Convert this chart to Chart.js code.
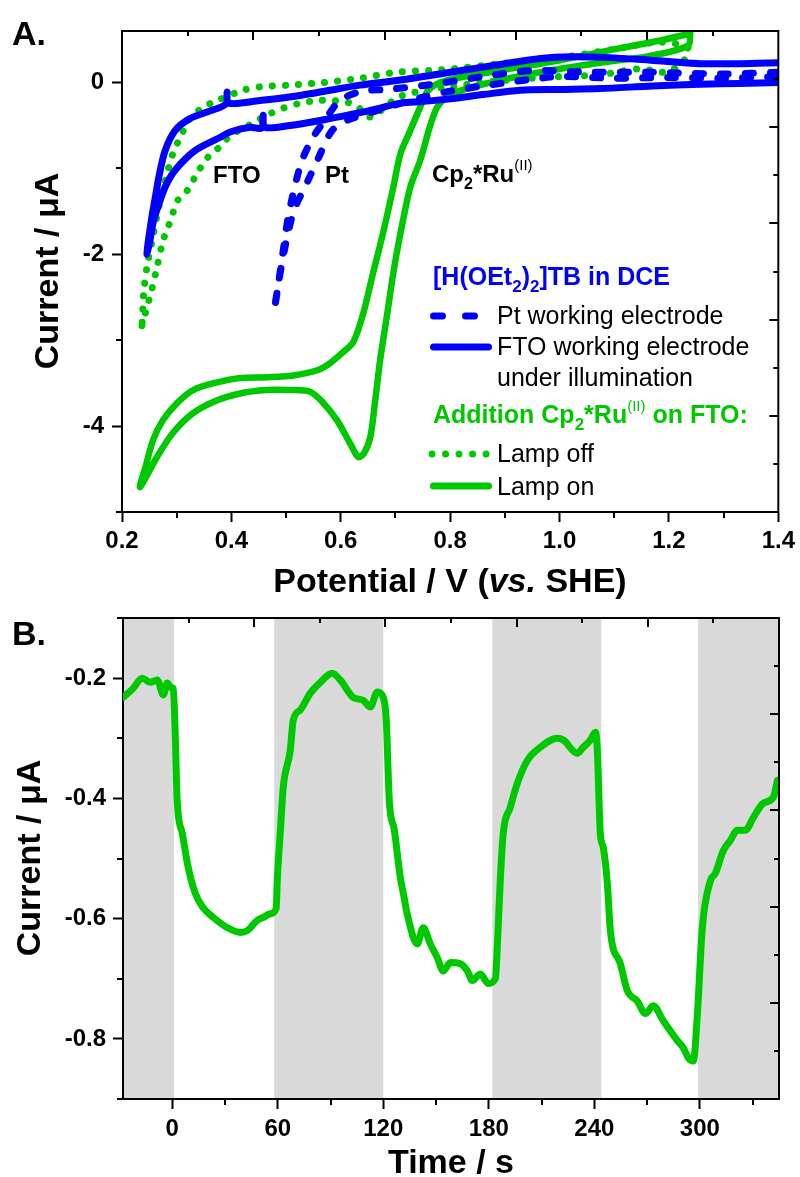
<!DOCTYPE html>
<html><head><meta charset="utf-8">
<script src="https://cdn.jsdelivr.net/npm/chart.js@4.4.0/dist/chart.umd.min.js"></script>
<style>
html,body{margin:0;padding:0;background:#fff;}
#wrap{position:relative;width:800px;height:1177px;overflow:hidden;background:#fff;}
#cA{position:absolute;left:0;top:0;}
#cB{position:absolute;left:0;top:590px;}
#ov{position:absolute;left:0;top:0;pointer-events:none;}
</style></head><body>
<div id="wrap">
<canvas id="cA" width="800" height="590"></canvas>
<canvas id="cB" width="800" height="587"></canvas>
<svg id="ov" width="800" height="1177" xmlns="http://www.w3.org/2000/svg">
 <g font-family="'Liberation Sans', Arial, sans-serif" font-weight="bold" fill="#000">
  <text x="12" y="45" font-size="34">A.</text>
  <text x="12" y="645" font-size="34">B.</text>
  <text x="450" y="592" font-size="34" text-anchor="middle">Potential / V (<tspan font-style="italic">vs.</tspan> SHE)</text>
  <text transform="translate(58,271) rotate(-90)" font-size="34" text-anchor="middle">Current / μA</text>
  <text transform="translate(40,858) rotate(-90)" font-size="34" text-anchor="middle">Current / μA</text>
  <text x="451" y="1173" font-size="34" text-anchor="middle">Time / s</text>
  <text x="213" y="183" font-size="24">FTO</text>
  <text x="325" y="183" font-size="24">Pt</text>
  <text x="432" y="182" font-size="24">Cp<tspan font-size="16" dy="7">2</tspan><tspan dy="-7">*Ru</tspan><tspan font-size="15" font-weight="normal" dy="-12">(II)</tspan></text>
  <text x="433" y="285" font-size="25" fill="#0000ff">[H(OEt<tspan font-size="17" dy="7">2</tspan><tspan dy="-7">)</tspan><tspan font-size="17" dy="7">2</tspan><tspan dy="-7">]TB in DCE</tspan></text>
  <text x="497" y="324" font-size="25" font-weight="normal">Pt working electrode</text>
  <text x="497" y="355" font-size="25" font-weight="normal">FTO working electrode</text>
  <text x="497" y="386" font-size="25" font-weight="normal">under illumination</text>
  <text x="433" y="423" font-size="25" fill="#00c800">Addition Cp<tspan font-size="17" dy="7">2</tspan><tspan dy="-7">*Ru</tspan><tspan font-size="15" font-weight="normal" dy="-12">(II)</tspan><tspan dy="12"> on FTO:</tspan></text>
  <text x="497" y="462" font-size="25" font-weight="normal">Lamp off</text>
  <text x="497" y="495" font-size="25" font-weight="normal">Lamp on</text>
 </g>
 <g fill="none" stroke-linecap="round">
  <line x1="433.5" y1="316" x2="474.5" y2="316" stroke="#0000ff" stroke-width="7" stroke-dasharray="9 23"/>
  <line x1="433.5" y1="347" x2="488.5" y2="347" stroke="#0000ff" stroke-width="7"/>
  <line x1="432" y1="454" x2="487" y2="454" stroke="#00c800" stroke-width="7" stroke-dasharray="0.01 13.5"/>
  <line x1="433.5" y1="486" x2="488.5" y2="486" stroke="#00c800" stroke-width="7"/>
 </g>
</svg>
</div>
<script>
// ---------- Panel A: cyclic voltammograms (V vs. SHE, current in µA) ----------
const ftoV = [1.40,1.33,1.257,1.17,1.074,1.00,0.928,0.86,0.80,0.75,0.709,0.67,0.635,0.58,0.507,0.461,0.458,0.455,0.434,0.40,0.379,0.334,0.297,0.28,0.270,0.258,0.251,0.2457,0.248,0.251,0.255,0.260,0.268,0.279,0.297,0.324,0.361,0.390,0.392,0.395,0.452,0.526,0.580,0.635,0.709,0.80,0.891,0.965,1.02,1.09,1.166,1.257,1.33,1.40];
const ftoI = [0.00,-0.01,-0.02,-0.04,-0.07,-0.08,-0.09,-0.14,-0.19,-0.22,-0.24,-0.30,-0.35,-0.42,-0.50,-0.52,-0.38,-0.53,-0.52,-0.57,-0.64,-0.79,-1.02,-1.20,-1.37,-1.60,-1.84,-2.00,-1.85,-1.72,-1.55,-1.37,-1.08,-0.79,-0.56,-0.42,-0.33,-0.25,-0.11,-0.24,-0.21,-0.15,-0.09,-0.03,0.03,0.12,0.21,0.28,0.30,0.29,0.26,0.22,0.22,0.23];

const ptV = [1.40,1.30,1.17,1.06,0.95,0.86,0.78,0.687,0.64,0.598,0.571,0.549,0.529,0.513,0.503,0.494,0.487,0.481,0.478,0.482,0.491,0.502,0.515,0.538,0.559,0.584,0.612,0.65,0.70,0.75,0.80,0.87,0.94,1.00,1.10,1.20,1.30,1.40];
const ptI = [0.12,0.10,0.12,0.12,0.14,0.07,-0.01,-0.08,-0.10,-0.21,-0.44,-0.64,-0.91,-1.29,-1.60,-1.99,-2.30,-2.55,-2.65,-2.50,-2.15,-1.80,-1.48,-1.17,-0.88,-0.56,-0.44,-0.36,-0.26,-0.17,-0.10,-0.03,0.03,0.07,0.05,0.06,0.05,0.07];

const lampOnV = [1.239,1.235,1.166,1.074,0.965,0.873,0.809,0.776,0.745,0.727,0.709,0.696,0.685,0.672,0.663,0.654,0.643,0.632,0.617,0.593,0.568,0.544,0.507,0.465,0.416,0.374,0.330,0.293,0.264,0.233,0.244,0.257,0.275,0.301,0.330,0.374,0.416,0.465,0.513,0.557,0.580,0.604,0.623,0.641,0.659,0.677,0.696,0.709,0.727,0.745,0.760,0.791,0.891,1.001,1.111,1.184,1.239];
const lampOnI = [0.57,0.43,0.31,0.23,0.12,0.00,-0.12,-0.29,-0.91,-1.22,-1.76,-2.22,-2.69,-3.23,-3.70,-4.13,-4.31,-4.36,-4.20,-3.93,-3.73,-3.60,-3.58,-3.58,-3.62,-3.70,-3.85,-4.08,-4.36,-4.71,-4.45,-4.16,-3.93,-3.73,-3.58,-3.49,-3.44,-3.43,-3.41,-3.35,-3.27,-3.14,-3.02,-2.69,-2.22,-1.76,-1.22,-0.83,-0.56,-0.29,-0.09,0.02,0.14,0.26,0.40,0.49,0.57];

const lampOffV = [0.2366,0.2549,0.264,0.275,0.284,0.293,0.302,0.319,0.337,0.357,0.375,0.398,0.440,0.465,0.494,0.526,0.557,0.586,0.612,0.630,0.654,0.709,0.80,0.891,1.001,1.074,1.147,1.193,1.224,1.235,1.184,1.111,1.001,0.891,0.805,0.763,0.703,0.635,0.568,0.507,0.452,0.421,0.374,0.348,0.324,0.310,0.293,0.279,0.266,0.255,0.246,0.240,0.238,0.2366];
const lampOffI = [-2.83,-2.40,-2.15,-1.84,-1.69,-1.52,-1.37,-1.26,-1.06,-0.87,-0.77,-0.62,-0.47,-0.38,-0.30,-0.24,-0.21,-0.21,-0.23,-0.28,-0.40,-0.16,-0.05,0.02,0.07,0.09,0.16,0.12,0.23,0.40,0.47,0.40,0.29,0.22,0.16,0.14,0.12,0.05,0.00,-0.03,-0.05,-0.09,-0.21,-0.29,-0.42,-0.59,-0.83,-1.14,-1.49,-1.84,-2.13,-2.42,-2.65,-2.83];

const xTicksA = [0.2,0.4,0.6,0.8,1.0,1.2,1.4];
const xMinorA = [0.3,0.5,0.7,0.9,1.1,1.3];
const yTicksA = [-4,-2,0];
const yMinorA = [-5,-3,-1];

// ---------- Panel B: chronoamperometry with lamp on/off ----------
const timeS = [-27.9,-22.2,-17.1,-12.5,-8.5,-5.1,-2.8,-1.1,0.6,1.7,2.8,5.7,9.1,13.1,17.6,23.3,31.3,38.7,42.7,48.3,51.8,55.7,59.1,59.7,61.4,63.1,67.1,68.8,72.8,78.5,84.2,91.0,95.5,102.9,108.6,112.6,116.6,120.0,121.7,123.4,126.3,129.7,131.4,133.6,139.3,142.7,146.7,150.7,154.1,158.1,163.8,167.8,170.6,175.2,179.7,183.7,184.8,186.5,188.2,192.2,196.2,201.9,209.3,218.9,222.4,230.3,233.7,237.7,240.6,241.7,243.4,245.1,247.4,249.1,254.8,258.8,264.4,269.0,273.5,279.2,287.2,290.6,293.5,296.3,298.6,301.4,306.0,308.8,313.3,317.3,321.3,325.9,330.4,336.1,341.8,344.1];
const currentB = [-0.232,-0.217,-0.200,-0.207,-0.203,-0.228,-0.208,-0.215,-0.217,-0.292,-0.403,-0.458,-0.515,-0.558,-0.582,-0.598,-0.615,-0.623,-0.620,-0.603,-0.598,-0.592,-0.583,-0.537,-0.458,-0.382,-0.320,-0.270,-0.253,-0.225,-0.207,-0.192,-0.203,-0.232,-0.237,-0.248,-0.223,-0.232,-0.270,-0.403,-0.453,-0.532,-0.558,-0.592,-0.642,-0.615,-0.642,-0.665,-0.687,-0.673,-0.675,-0.687,-0.703,-0.692,-0.708,-0.700,-0.648,-0.537,-0.458,-0.415,-0.375,-0.337,-0.315,-0.300,-0.303,-0.325,-0.315,-0.303,-0.290,-0.320,-0.458,-0.482,-0.542,-0.620,-0.675,-0.720,-0.737,-0.758,-0.745,-0.770,-0.803,-0.815,-0.832,-0.837,-0.758,-0.615,-0.537,-0.525,-0.487,-0.470,-0.453,-0.453,-0.432,-0.408,-0.398,-0.370];
const lampBands = [[-28,1],[58,120],[182,244],[299,345]];

const xTicksB = [0,60,120,180,240,300];
const xMinorB = [30,90,150,210,270,330];
const yTicksB = [-0.8,-0.6,-0.4,-0.2];
const yMinorB = [-0.9,-0.7,-0.5,-0.3,-0.1];

const BLUE = '#0000ff', GREEN = '#00c800';
const zip = (xs, ys) => xs.map((x, i) => ({x, y: ys[i]}));
const tickFont = {family:"'Liberation Sans', Arial, sans-serif", size:24, weight:'bold'};

const frameTicks = {
  id:'frameTicks',
  afterDraw(chart, args, o){
    const {ctx, chartArea:a, scales} = chart;
    const sx = scales.x, sy = scales.y;
    ctx.save();
    ctx.strokeStyle = '#000'; ctx.lineWidth = 2; ctx.lineCap = 'butt';
    ctx.beginPath();
    ctx.moveTo(a.left-1, a.top); ctx.lineTo(a.right, a.top); ctx.lineTo(a.right, a.bottom+1);
    (o.xMinor||[]).forEach(v => { const p = Math.round(sx.getPixelForValue(v)); ctx.moveTo(p, a.bottom); ctx.lineTo(p, a.bottom + o.minorLen); });
    (o.yMinor||[]).forEach(v => { const p = Math.round(sy.getPixelForValue(v)); ctx.moveTo(a.left, p); ctx.lineTo(a.left - o.minorLen, p); });
    const n = o.mirrorDivisions;
    for (let i = 1; i < n; i++) {
      const len = i % 2 === 0 ? o.mirrorMajor : o.mirrorMinor;
      const px = Math.round(a.left + (a.right - a.left) * i / n);
      ctx.moveTo(px, a.top); ctx.lineTo(px, a.top + len);
      const py = Math.round(a.top + (a.bottom - a.top) * i / n);
      ctx.moveTo(a.right, py); ctx.lineTo(a.right - len, py);
    }
    ctx.stroke(); ctx.restore();
  }
};

const bandPlugin = {
  id:'bands',
  beforeDraw(chart, args, o){
    if (!o.bands) return;
    const {ctx, chartArea:a, scales:{x}} = chart;
    ctx.save(); ctx.fillStyle = o.color;
    o.bands.forEach(([s, e]) => {
      const p1 = Math.max(a.left, x.getPixelForValue(s));
      const p2 = Math.min(a.right, x.getPixelForValue(e));
      ctx.fillRect(p1, a.top, p2 - p1, a.bottom - a.top);
    });
    ctx.restore();
  }
};

function axis(opts){
  return {
    type:'linear', position:opts.position, min:opts.min, max:opts.max,
    afterBuildTicks: s => { s.ticks = opts.ticks.map(v => ({value:v})); },
    afterFit: opts.fit,
    ticks:{font:tickFont, color:'#000', padding:opts.pad, autoSkip:false, maxRotation:0, callback:opts.fmt},
    grid:{drawOnChartArea:false, tickLength:10, tickWidth:2, tickColor:'#000'},
    border:{color:'#000', width:2}
  };
}

const common = (extra) => Object.assign({
  responsive:false, animation:false, devicePixelRatio:1,
  events:[],
}, extra);

const lineStyle = (color, width, extra) => Object.assign({
  showLine:true, borderColor:color, backgroundColor:color, borderWidth:width, pointRadius:0,
  tension:0.3, borderCapStyle:'round', borderJoinStyle:'round'
}, extra || {});

new Chart(document.getElementById('cA'), {
  type:'scatter',
  data:{datasets:[
    Object.assign({label:'FTO working electrode under illumination', data:zip(ftoV, ftoI)}, lineStyle(BLUE, 7)),
    Object.assign({label:'Pt working electrode', data:zip(ptV, ptI)}, lineStyle(BLUE, 7, {borderDash:[8,17]})),
    Object.assign({label:'Lamp on', data:zip(lampOnV, lampOnI)}, lineStyle(GREEN, 6.5)),
    Object.assign({label:'Lamp off', data:zip(lampOffV, lampOffI)}, lineStyle(GREEN, 7, {borderDash:[0.1,13]}))
  ]},
  options:common({
    layout:{padding:{top:31, right:21, left:0, bottom:0}},
    plugins:{legend:{display:false}, tooltip:{enabled:false},
      frameTicks:{xMinor:xMinorA, yMinor:yMinorA, minorLen:6, mirrorDivisions:10, mirrorMajor:9, mirrorMinor:5}},
    scales:{
      x:axis({position:'bottom', min:0.2, max:1.4, ticks:xTicksA, pad:5, fmt:v => Number(v).toFixed(1), fit:s => { s.height = 78; }}),
      y:axis({position:'left', min:-5, max:0.6, ticks:yTicksA, pad:8, fmt:v => String(v), fit:s => { s.width = 122; }})
    }
  }),
  plugins:[frameTicks]
});

new Chart(document.getElementById('cB'), {
  type:'scatter',
  data:{datasets:[
    Object.assign({label:'Current', data:zip(timeS, currentB)}, lineStyle(GREEN, 7, {cubicInterpolationMode:'monotone'}))
  ]},
  options:common({
    layout:{padding:{top:28, right:21, left:0, bottom:0}},
    plugins:{legend:{display:false}, tooltip:{enabled:false},
      bands:{bands:lampBands, color:'#d9d9d9'},
      frameTicks:{xMinor:xMinorB, yMinor:yMinorB, minorLen:6, mirrorDivisions:10, mirrorMajor:9, mirrorMinor:5}},
    scales:{
      x:axis({position:'bottom', min:-28, max:345, ticks:xTicksB, pad:6, fmt:v => String(v), fit:s => { s.height = 78; }}),
      y:axis({position:'left', min:-0.9, max:-0.1, ticks:yTicksB, pad:7, fmt:v => Number(v).toFixed(1), fit:s => { s.width = 123; }})
    }
  }),
  plugins:[bandPlugin, frameTicks]
});
</script>
</body></html>
